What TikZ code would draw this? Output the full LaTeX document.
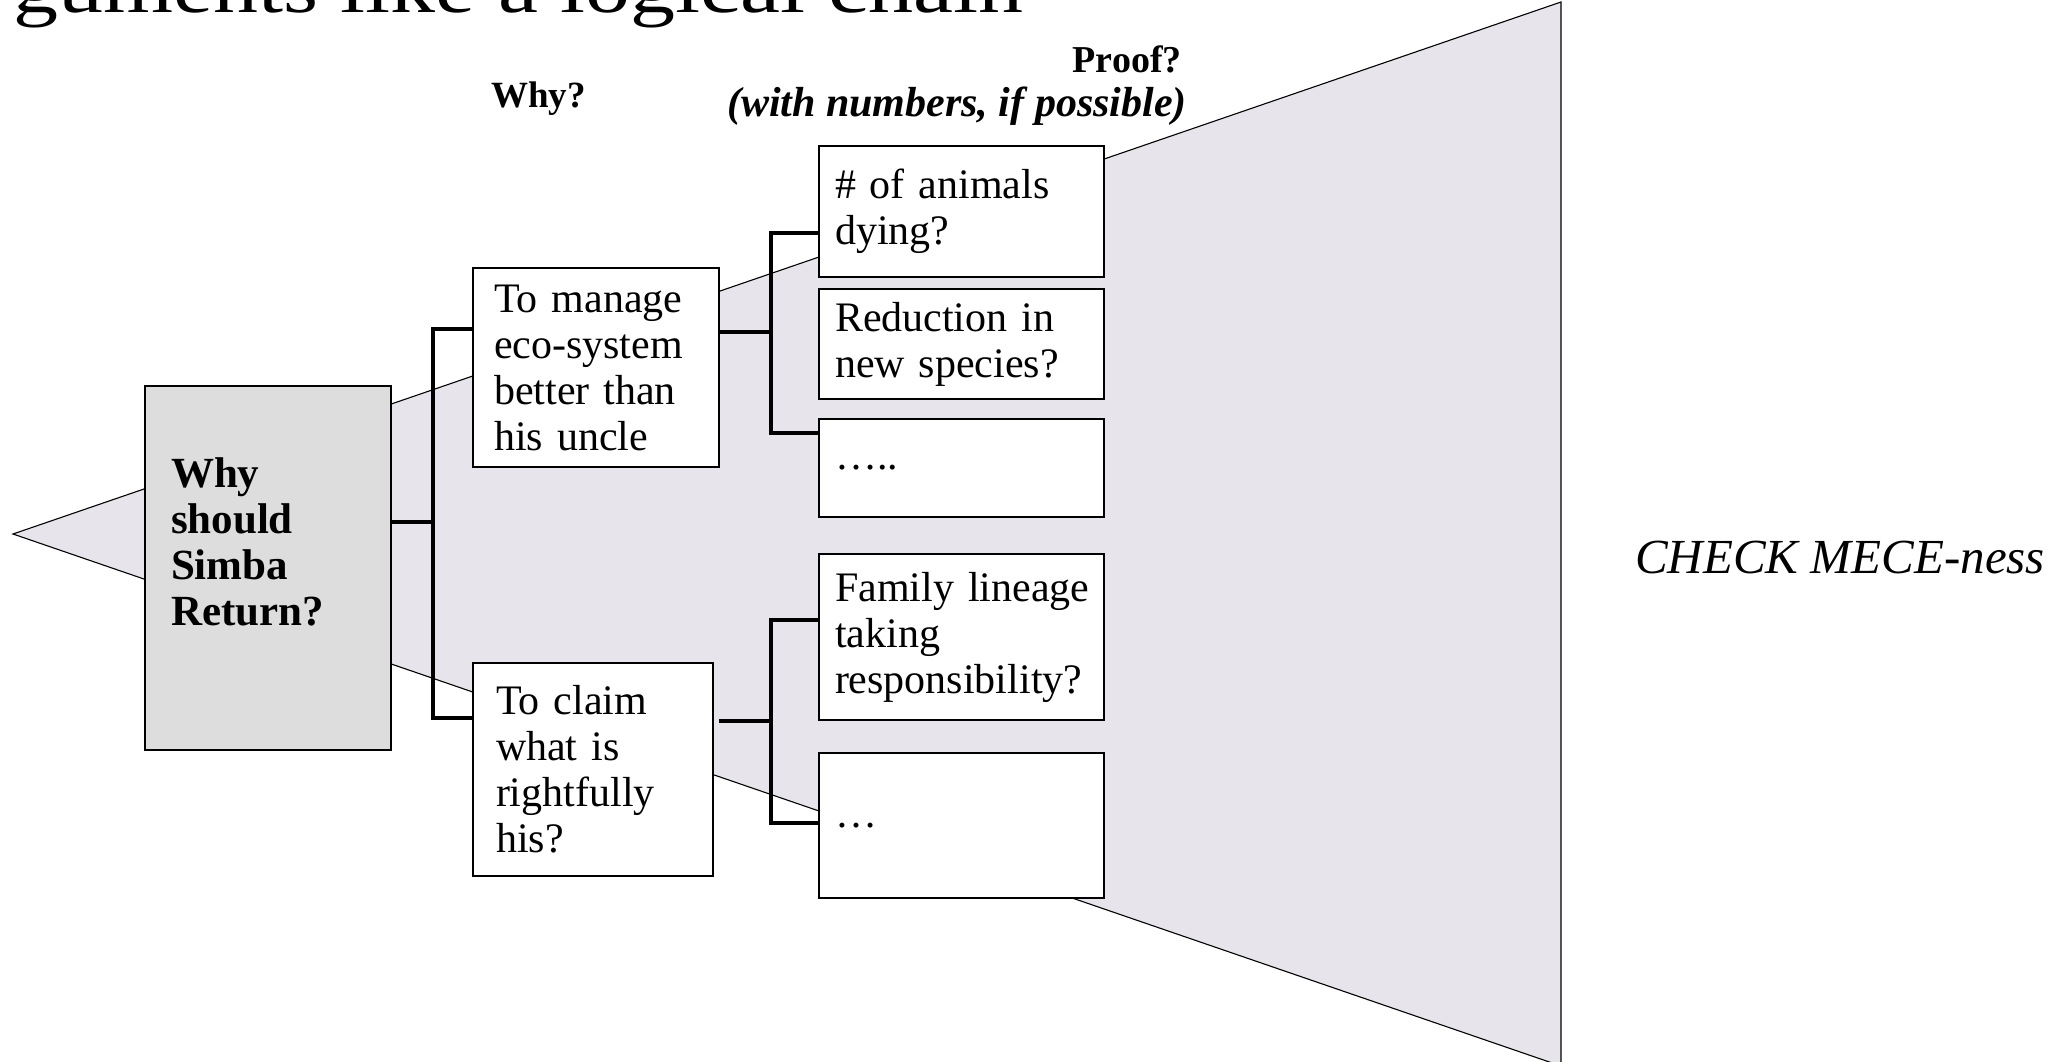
\documentclass[tikz,border=0pt]{standalone}
\usepackage{fontspec}
\usepackage{graphicx}
\setmainfont{Liberation Serif}
\definecolor{fanfill}{RGB}{232,228,235}
\definecolor{rootfill}{RGB}{221,221,221}
\tikzset{
        % the wedge that opens behind the tree
        fan/.style={draw=black, line width=1.1pt, fill=fanfill},
        % boxes of the tree, placed by their top left corner
        box/.style={draw=black, line width=2.5pt, fill=white, anchor=north west,
            outer sep=0pt, inner ysep=0pt, align=left,
            font=\fontsize{42}{46}\selectfont},
        rootbox/.style={box, fill=rootfill, font=\bfseries\fontsize{43}{46}\selectfont},
        rbox/.style={box, minimum width=285pt, inner xsep=16pt, text width=253pt},
        % thick elbow lines between the boxes
        link/.style={draw=black, line width=4.5pt},
        head/.style={inner sep=0pt, font=\bfseries\fontsize{37}{44}\selectfont}
    }
\begin{document}
\begin{tikzpicture}[x=1pt,y=1pt,yscale=-1]
\useasboundingbox (0,0) rectangle (2064,1061); %size of the slide crop

%Shape: Triangle [id:fan]
\draw[fan] (13,534) -- (1561,2) -- (1561,1066) -- cycle;

%Shape: Rectangle [id:simba]
\node[rootbox, minimum width=246pt, minimum height=364pt, inner xsep=26pt, text width=194pt,
      text height=30pt, text depth=192pt] (simba) at (145,386) {Why\\should\\Simba\\Return?};
%Shape: Rectangle [id:eco]
\node[box, minimum width=246pt, minimum height=199pt, inner xsep=21pt, text width=204pt]
      (eco) at (473,268) {To manage\\eco-system\\better than\\his uncle};
%Shape: Rectangle [id:claim]
\node[box, minimum width=240pt, minimum height=213pt, inner xsep=23pt, text width=194pt]
      (claim) at (473,663) {To claim\\what is\\rightfully\\his?};
%Shape: Rectangle [id:dying]
\node[rbox, minimum height=131pt] (dying) at (819,146) {\# of animals\\dying?};
%Shape: Rectangle [id:species]
\node[rbox, minimum height=110pt] (species) at (819,289) {Reduction in\\new species?};
%Shape: Rectangle [id:dotsA]
\node[rbox, minimum height=98pt] (dotsA) at (819,419) {…..};
%Shape: Rectangle [id:lineage]
\node[rbox, minimum height=166pt] (lineage) at (819,554) {\mbox{Family lineage}\\taking\\\mbox{responsibility?}};
%Shape: Rectangle [id:dotsB]
\node[rbox, minimum height=145pt] (dotsB) at (819,753) {…};

% bars of the tree
\coordinate (trunk) at (433,522);
\coordinate (trunkTop) at (433,329);
\coordinate (trunkBot) at (433,718);
\coordinate (ecoFork) at (771,332);
\coordinate (ecoTop) at (771,233);
\coordinate (ecoBot) at (771,433);
\coordinate (claimFork) at (771,721);
\coordinate (claimTop) at (771,620);
\coordinate (claimBot) at (771,823);

%Straight Lines [id:trunk]
\draw[link] (simba.east |- trunk) -- (trunk);
\draw[link] (eco.west |- trunkTop) -- (trunkTop) -- (trunkBot) -- (claim.west |- trunkBot);
%Straight Lines [id:ecoFork]
\draw[link] (eco.east |- ecoFork) -- (ecoFork);
\draw[link] (dying.west |- ecoTop) -- (ecoTop) -- (ecoBot) -- (dotsA.west |- ecoBot);
%Straight Lines [id:claimFork]
\draw[link, shorten <=6pt] (claim.east |- claimFork) -- (claimFork);
\draw[link] (lineage.west |- claimTop) -- (claimTop) -- (claimBot) -- (dotsB.west |- claimBot);

% Text Node
\node[anchor=base west, inner sep=0pt, font=\fontsize{72}{80}\selectfont] (title) at (13,12)
      {\scalebox{1.25}[1]{guments like a logical chain}};
% Text Node
\node[head, anchor=base west] (whyhead) at (491,107) {Why?};
% Text Node
\node[head, anchor=base east, font=\bfseries\fontsize{38}{44}\selectfont] (proofhead) at (1182,72) {Proof?};
% Text Node
\node[head, anchor=base east, font=\bfseries\itshape\fontsize{42}{44}\selectfont] (numhead) at (1187,116)
      {(with numbers, if possible)};
% Text Node
\node[anchor=base west, inner sep=0pt, font=\itshape\fontsize{49}{56}\selectfont] (mece) at (1635,573)
      {CHECK MECE-ness};

\end{tikzpicture}
\end{document}
